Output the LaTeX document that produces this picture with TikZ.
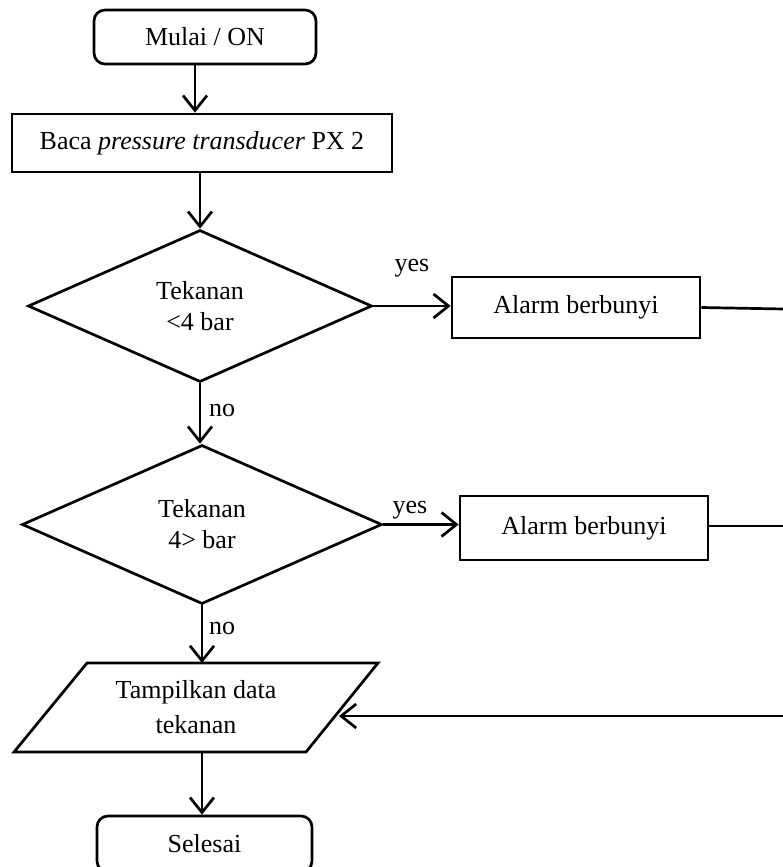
\documentclass[tikz,border=0pt]{standalone}
\usepackage{fontspec}
\setmainfont{Liberation Serif}
\usetikzlibrary{shapes.geometric,arrows.meta,calc}
\begin{document}
\begin{tikzpicture}[x=1pt,y=-1pt,
  every node/.style={font=\fontsize{26}{31}\selectfont},
  base/.style={draw,line width=2.7pt,inner sep=0pt},
  term/.style={base,rectangle,rounded corners=11pt},
  proc/.style={base,rectangle},
  dec/.style={base,diamond,align=center},
  lbl/.style={inner sep=0pt},
  ln/.style={line width=2.7pt},
  arr/.style={line width=2.7pt,-{Straight Barb[length=15pt,width=24pt,line width=2.7pt]}}]
\useasboundingbox (0,0) rectangle (783,867);
\clip (0,0) rectangle (783,867);
\fill[white] (0,0) rectangle (783,867);
\node[term,minimum width=222pt,minimum height=54pt] (start) at (205,37) {Mulai / ON};
\node[proc,minimum width=380pt,minimum height=58pt] (baca) at (202,143) {Baca \textit{pressure transducer} PX 2};
\node[dec,minimum width=344pt,minimum height=152pt] (d1) at (200,306) {Tekanan\\<4 bar};
\node[proc,minimum width=248pt,minimum height=61pt] (a1) at (576,307.5) {Alarm berbunyi};
\node[dec,minimum width=360pt,minimum height=159pt] (d2) at (202,524.5) {Tekanan\\4> bar};
\node[proc,minimum width=248pt,minimum height=64pt] (a2) at (584,528) {Alarm berbunyi};
\node[align=center,inner sep=0pt,font=\fontsize{26}{35}\selectfont] (out) at (196,707.5) {Tampilkan data\\tekanan};
\draw[ln,line join=miter] ($(out.center)+(-109,-44.5)$) coordinate (otl) -- ++(291,0) coordinate (otr)
  -- ++(-72,89) coordinate (obr) -- ++(-292,0) coordinate (obl) -- cycle;
\node[term,minimum width=215pt,minimum height=56pt] (end) at (204.5,844) {Selesai};
\coordinate (e1) at (784,309);
\coordinate (e2) at (784,526);
\coordinate (e3) at (784,716);
\coordinate (oin) at (339,716);
\node[lbl] (y1) at (412,268) {yes};
\node[lbl] (n1) at (222,410) {no};
\node[lbl] (y2) at (410,510) {yes};
\node[lbl] (n2) at (222,628) {no};
\draw[arr] ([xshift=-10pt]start.south) -- ([xshift=-10pt]start.south |- baca.north);
\draw[arr] ([xshift=-2pt]baca.south) -- (d1.north);
\draw[arr] (d1.east) -- (a1.west |- d1.east);
\draw[ln] (a1.east) -- (e1);
\draw[arr] (d1.south) -- (d1.south |- d2.north);
\draw[arr] (d2.east) -- (a2.west |- d2.east);
\draw[ln] (a2.east |- e2) -- (e2);
\draw[arr] (d2.south) -- (d2.south |- otl);
\draw[arr] (e3) -- (oin);
\draw[arr] (d2.south |- obl) -- (d2.south |- end.north);
\end{tikzpicture}
\end{document}
